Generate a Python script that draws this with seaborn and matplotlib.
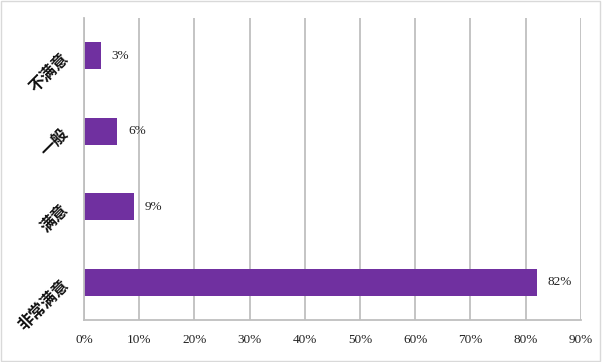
import matplotlib
matplotlib.use('Agg')
import matplotlib.pyplot as plt
import seaborn as sns
import pandas as pd
from matplotlib.ticker import FuncFormatter, MultipleLocator

# chart data
categories = ['不满意', '一般', '满意', '非常满意']
shares = [0.03, 0.06, 0.09, 0.82]
value_labels = ['3%', '6%', '9%', '82%']

df = pd.DataFrame({'category': categories, 'share': shares})

sns.set_style('white')
plt.rcParams['font.family'] = ['Noto Sans CJK SC', 'DejaVu Sans']

fig = plt.figure(figsize=(6.02, 3.62), dpi=100)
ax = fig.add_axes([0.1395, 0.116, 0.8255, 0.834])

sns.barplot(data=df, x='share', y='category', order=categories,
            color='#7030A0', saturation=1, width=0.355, orient='h',
            linewidth=0, ax=ax)

ax.set_xlim(0, 0.9)
ax.xaxis.set_major_locator(MultipleLocator(0.1))
ax.xaxis.set_major_formatter(FuncFormatter(lambda v, _: f'{v * 100:.0f}%'))
ax.grid(axis='x', color='#BFBFBF', linewidth=1.3)
ax.set_axisbelow(True)
ax.set_xlabel('')
ax.set_ylabel('')

for side in ['top', 'right']:
    ax.spines[side].set_visible(False)
for side in ['left', 'bottom']:
    ax.spines[side].set_color('#BFBFBF')
    ax.spines[side].set_linewidth(1.3)

ax.tick_params(axis='both', length=0)
ax.tick_params(axis='x', pad=10)
ax.tick_params(axis='y', pad=13)
for lbl in ax.get_xticklabels():
    lbl.set_fontfamily('Liberation Serif')
    lbl.set_fontsize(9.5)
    lbl.set_color('#222222')
for lbl in ax.get_yticklabels():
    lbl.set_rotation(45)
    lbl.set_fontsize(11.5)
    lbl.set_fontweight('bold')
    lbl.set_color('#111111')
    lbl.set_ha('right')
    lbl.set_va('center')
    lbl.set_rotation_mode('anchor')

for i, (v, txt) in enumerate(zip(shares, value_labels)):
    ax.annotate(txt, (v, i), xytext=(8, 0), textcoords='offset points',
                va='center', ha='left', fontsize=9.5,
                fontfamily='Liberation Serif', color='#222222')

# outer chart border
fig.patches.append(plt.Rectangle((0.002, 0.003), 0.995, 0.993,
                                 transform=fig.transFigure, fill=False,
                                 edgecolor='#D9D9D9', linewidth=1))

fig.savefig('out.png', dpi=100)
